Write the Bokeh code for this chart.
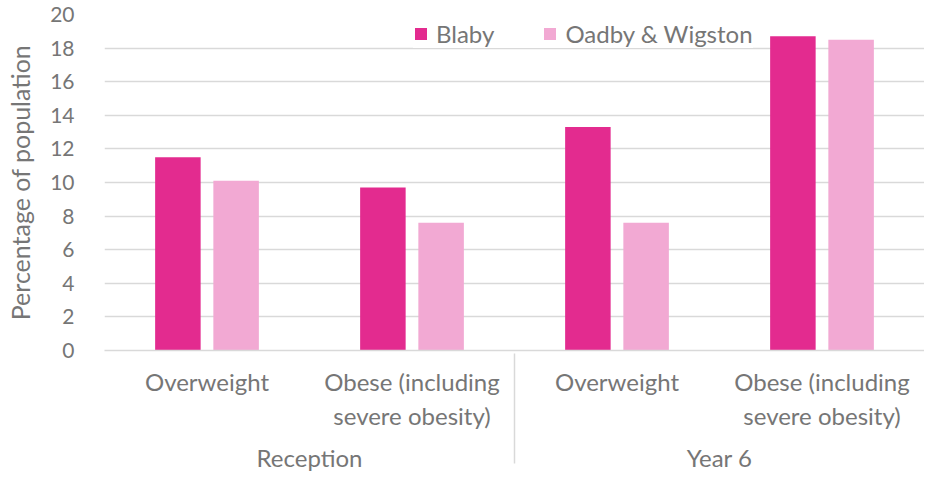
from bokeh.plotting import figure
from bokeh.models import FactorRange, ColumnDataSource, FixedTicker, Legend
from bokeh.transform import dodge
from bokeh.embed import file_html
from bokeh.resources import INLINE

groups = ["Reception", "Reception", "Year 6", "Year 6"]
measures = ["Overweight", "Obese (including\nsevere obesity)", "Overweight", "Obese (including\nsevere obesity)"]
blaby = [11.5, 9.7, 13.3, 18.7]
oadby = [10.1, 7.6, 7.6, 18.5]
y_ticks = [0, 2, 4, 6, 8, 10, 12, 14, 16, 18, 20]

FONT = "Lato"
TXT = "#767676"
GRID = "#d9d9d9"
C_BLABY = "#e32b8f"
C_OADBY = "#f2a9d3"

factors = list(zip(groups, measures))
src = ColumnDataSource(dict(x=factors, blaby=blaby, oadby=oadby))

xr = FactorRange(*factors, range_padding=0, group_padding=0, factor_padding=0, subgroup_padding=0)
p = figure(x_range=xr, y_range=(0, 20), width=924, height=475,
           output_backend="svg", toolbar_location=None,
           min_border_left=104, min_border_top=14, min_border_bottom=100, min_border_right=0)

r1 = p.vbar(x=dodge("x", -0.142, range=p.x_range), top="blaby", width=0.222, source=src,
            fill_color=C_BLABY, line_color=None)
r2 = p.vbar(x=dodge("x", 0.142, range=p.x_range), top="oadby", width=0.222, source=src,
            fill_color=C_OADBY, line_color=None)

legend = Legend(items=[("Blaby", [r1]), ("Oadby & Wigston", [r2])],
                orientation="horizontal", location=(309, 302),
                border_line_color=None, background_fill_color="white", background_fill_alpha=1,
                glyph_width=15, glyph_height=15, label_standoff=8, spacing=48,
                padding=0, margin=0, label_height=15,
                label_text_font=FONT, label_text_font_size="24px", label_text_color=TXT)
p.add_layout(legend)

p.outline_line_color = None
p.xgrid.grid_line_color = None
p.ygrid.grid_line_color = GRID
p.ygrid.grid_line_width = 1.5
p.yaxis.ticker = FixedTicker(ticks=y_ticks)
p.yaxis.axis_line_color = None
p.yaxis.major_tick_line_color = None
p.yaxis.minor_tick_line_color = None
p.yaxis.major_label_standoff = 24
p.yaxis.major_label_text_font = FONT
p.yaxis.major_label_text_font_size = "21px"
p.yaxis.major_label_text_color = TXT
p.yaxis.axis_label = "Percentage of population"
p.yaxis.axis_label_text_font = FONT
p.yaxis.axis_label_text_font_size = "25px"
p.yaxis.axis_label_text_font_style = "normal"
p.yaxis.axis_label_text_color = TXT
p.yaxis.axis_label_standoff = 12

xa = p.xaxis[0]
xa.axis_line_color = GRID
xa.axis_line_width = 1.5
xa.major_tick_line_color = None
xa.minor_tick_line_color = None
xa.major_label_standoff = 10
xa.major_label_text_font = FONT
xa.major_label_text_font_size = "24px"
xa.major_label_text_color = TXT
xa.group_text_font = FONT
xa.group_text_font_size = "24px"
xa.group_text_color = TXT
xa.group_text_font_style = "normal"
xa.separator_line_color = GRID
xa.separator_line_width = 1.5

open("out.html", "w").write(file_html(p, INLINE))
